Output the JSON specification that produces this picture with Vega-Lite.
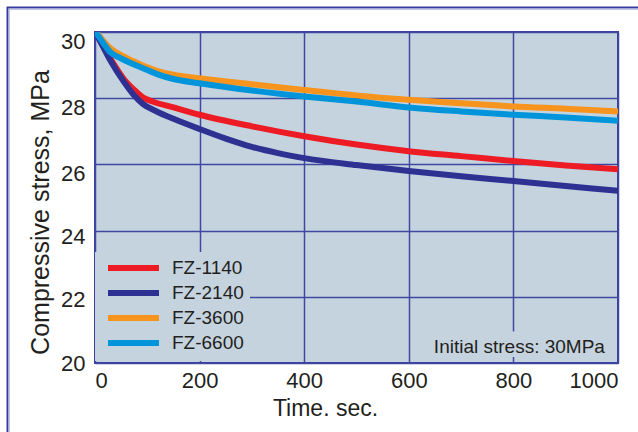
{
  "$schema": "https://vega.github.io/schema/vega-lite/v6.json",
  "autosize": {"type": "none"},
  "width": 523,
  "height": 331,
  "padding": {"left": 95, "top": 32, "right": 20, "bottom": 69},
  "background": "#ffffff",
  "config": {
    "font": "Liberation Sans",
    "view": {"stroke": "#3b3f9f", "strokeWidth": 2, "fill": "#c5d3df"},
    "axis": {
      "grid": true, "gridColor": "#4047a0", "gridWidth": 1.5, "gridOpacity": 1,
      "ticks": false, "domain": false,
      "labelFont": "Liberation Sans", "labelColor": "#231f20",
      "titleFont": "Liberation Sans", "titleColor": "#231f20", "titleFontWeight": "normal"
    }
  },
  "layer": [
    {
      "data": {"values": [{"k": 1}]},
      "mark": {"type": "rect", "fill": null, "stroke": "#353a9b", "strokeWidth": 2, "clip": false},
      "encoding": {
        "x": {"datum": -167.3, "type": "quantitative", "scale": {"domain": [0, 1000], "nice": false, "zero": false}},
        "x2": {"datum": 2000},
        "y": {"datum": 30.74, "type": "quantitative", "scale": {"domain": [20, 30], "nice": false, "zero": false}},
        "y2": {"datum": 10}
      }
    },
    {
      "data": {"values": [{"k": 1}]},
      "mark": {"type": "rect", "fill": null, "stroke": "#aeb1de", "strokeWidth": 1.2, "clip": false},
      "encoding": {
        "x": {"datum": -164.2, "type": "quantitative"},
        "x2": {"datum": 2000},
        "y": {"datum": 30.69, "type": "quantitative"},
        "y2": {"datum": 10}
      }
    },
    {
      "data": {"values": [
        {"t": 0, "s": 30.0, "g": "FZ-1140"},
        {"t": 10, "s": 29.74, "g": "FZ-1140"},
        {"t": 30, "s": 29.18, "g": "FZ-1140"},
        {"t": 55, "s": 28.58, "g": "FZ-1140"},
        {"t": 75, "s": 28.25, "g": "FZ-1140"},
        {"t": 92, "s": 28.02, "g": "FZ-1140"},
        {"t": 110, "s": 27.9, "g": "FZ-1140"},
        {"t": 150, "s": 27.72, "g": "FZ-1140"},
        {"t": 200, "s": 27.5, "g": "FZ-1140"},
        {"t": 300, "s": 27.15, "g": "FZ-1140"},
        {"t": 400, "s": 26.85, "g": "FZ-1140"},
        {"t": 500, "s": 26.6, "g": "FZ-1140"},
        {"t": 600, "s": 26.4, "g": "FZ-1140"},
        {"t": 700, "s": 26.25, "g": "FZ-1140"},
        {"t": 800, "s": 26.1, "g": "FZ-1140"},
        {"t": 900, "s": 25.97, "g": "FZ-1140"},
        {"t": 1000, "s": 25.85, "g": "FZ-1140"},
        {"t": 0, "s": 30.05, "g": "FZ-3600"},
        {"t": 10, "s": 29.85, "g": "FZ-3600"},
        {"t": 30, "s": 29.5, "g": "FZ-3600"},
        {"t": 50, "s": 29.3, "g": "FZ-3600"},
        {"t": 73, "s": 29.12, "g": "FZ-3600"},
        {"t": 100, "s": 28.93, "g": "FZ-3600"},
        {"t": 120, "s": 28.82, "g": "FZ-3600"},
        {"t": 150, "s": 28.71, "g": "FZ-3600"},
        {"t": 200, "s": 28.6, "g": "FZ-3600"},
        {"t": 300, "s": 28.42, "g": "FZ-3600"},
        {"t": 400, "s": 28.25, "g": "FZ-3600"},
        {"t": 500, "s": 28.08, "g": "FZ-3600"},
        {"t": 600, "s": 27.95, "g": "FZ-3600"},
        {"t": 700, "s": 27.85, "g": "FZ-3600"},
        {"t": 800, "s": 27.75, "g": "FZ-3600"},
        {"t": 900, "s": 27.68, "g": "FZ-3600"},
        {"t": 1000, "s": 27.6, "g": "FZ-3600"},
        {"t": 0, "s": 30.0, "g": "FZ-2140"},
        {"t": 10, "s": 29.72, "g": "FZ-2140"},
        {"t": 30, "s": 29.12, "g": "FZ-2140"},
        {"t": 55, "s": 28.5, "g": "FZ-2140"},
        {"t": 75, "s": 28.08, "g": "FZ-2140"},
        {"t": 92, "s": 27.82, "g": "FZ-2140"},
        {"t": 118, "s": 27.6, "g": "FZ-2140"},
        {"t": 150, "s": 27.38, "g": "FZ-2140"},
        {"t": 200, "s": 27.07, "g": "FZ-2140"},
        {"t": 250, "s": 26.78, "g": "FZ-2140"},
        {"t": 300, "s": 26.53, "g": "FZ-2140"},
        {"t": 350, "s": 26.34, "g": "FZ-2140"},
        {"t": 400, "s": 26.19, "g": "FZ-2140"},
        {"t": 500, "s": 25.98, "g": "FZ-2140"},
        {"t": 600, "s": 25.8, "g": "FZ-2140"},
        {"t": 700, "s": 25.64, "g": "FZ-2140"},
        {"t": 800, "s": 25.5, "g": "FZ-2140"},
        {"t": 900, "s": 25.35, "g": "FZ-2140"},
        {"t": 1000, "s": 25.2, "g": "FZ-2140"},
        {"t": 0, "s": 30.03, "g": "FZ-6600"},
        {"t": 10, "s": 29.8, "g": "FZ-6600"},
        {"t": 30, "s": 29.38, "g": "FZ-6600"},
        {"t": 50, "s": 29.2, "g": "FZ-6600"},
        {"t": 73, "s": 29.03, "g": "FZ-6600"},
        {"t": 100, "s": 28.85, "g": "FZ-6600"},
        {"t": 120, "s": 28.72, "g": "FZ-6600"},
        {"t": 150, "s": 28.58, "g": "FZ-6600"},
        {"t": 200, "s": 28.45, "g": "FZ-6600"},
        {"t": 300, "s": 28.23, "g": "FZ-6600"},
        {"t": 400, "s": 28.05, "g": "FZ-6600"},
        {"t": 500, "s": 27.9, "g": "FZ-6600"},
        {"t": 600, "s": 27.72, "g": "FZ-6600"},
        {"t": 700, "s": 27.6, "g": "FZ-6600"},
        {"t": 800, "s": 27.5, "g": "FZ-6600"},
        {"t": 900, "s": 27.42, "g": "FZ-6600"},
        {"t": 1000, "s": 27.32, "g": "FZ-6600"}
      ]},
      "mark": {"type": "line", "strokeWidth": 6, "interpolate": "monotone", "clip": true},
      "encoding": {
        "x": {
          "field": "t", "type": "quantitative",
          "scale": {"domain": [0, 1000], "nice": false, "zero": false},
          "axis": {
            "values": [0, 200, 400, 600, 800, 1000], "format": "d",
            "labelFontSize": 22, "labelPadding": 7, "labelFlush": true, "labelBaseline": "top",
            "title": "Time. sec.", "titleFontSize": 23, "titleX": 230, "titleY": 52,
            "titleAlign": "center", "titleBaseline": "alphabetic", "titleAnchor": null
          }
        },
        "y": {
          "field": "s", "type": "quantitative",
          "scale": {"domain": [20, 30], "nice": false, "zero": false},
          "axis": {
            "values": [20, 22, 24, 26, 28, 30],
            "labelFontSize": 22, "labelPadding": 10, "labelBaseline": "middle",
            "labelOffset": {"expr": "min(9, (datum.value - 20) * 1.5)"},
            "title": "Compressive stress, MPa", "titleFontSize": 25, "titleX": -47, "titleY": 180,
            "titleAlign": "center", "titleBaseline": "alphabetic", "titleAngle": -90, "titleAnchor": null
          }
        },
        "color": {
          "field": "g", "type": "nominal",
          "scale": {"domain": ["FZ-1140", "FZ-2140", "FZ-3600", "FZ-6600"], "range": ["#ed1c24", "#2e3192", "#f7941d", "#0095da"]},
          "legend": {
            "orient": "none", "legendX": 0, "legendY": 220, "title": null,
            "fillColor": "#c5d3df", "strokeColor": null, "padding": 5.5,
            "symbolType": "M-0.4,0H6.4", "symbolSize": 225, "symbolStrokeWidth": 6,
            "labelFontSize": 19, "labelColor": "#231f20", "labelOffset": 50.5, "labelFont": "Liberation Sans",
            "rowPadding": 0
          }
        }
      }
    },
    {
      "data": {"values": [{"k": 1}]},
      "mark": {"type": "rect", "fill": "#c5d3df"},
      "encoding": {
        "x": {"datum": 621, "type": "quantitative"},
        "x2": {"datum": 988},
        "y": {"datum": 20.95, "type": "quantitative"},
        "y2": {"datum": 20.18}
      }
    },
    {
      "data": {"values": [{"k": 1}]},
      "mark": {"type": "text", "text": "Initial stress: 30MPa", "align": "right", "baseline": "alphabetic", "fontSize": 19, "font": "Liberation Sans", "color": "#231f20"},
      "encoding": {
        "x": {"datum": 975, "type": "quantitative"},
        "y": {"datum": 20.29, "type": "quantitative"}
      }
    }
  ]
}
